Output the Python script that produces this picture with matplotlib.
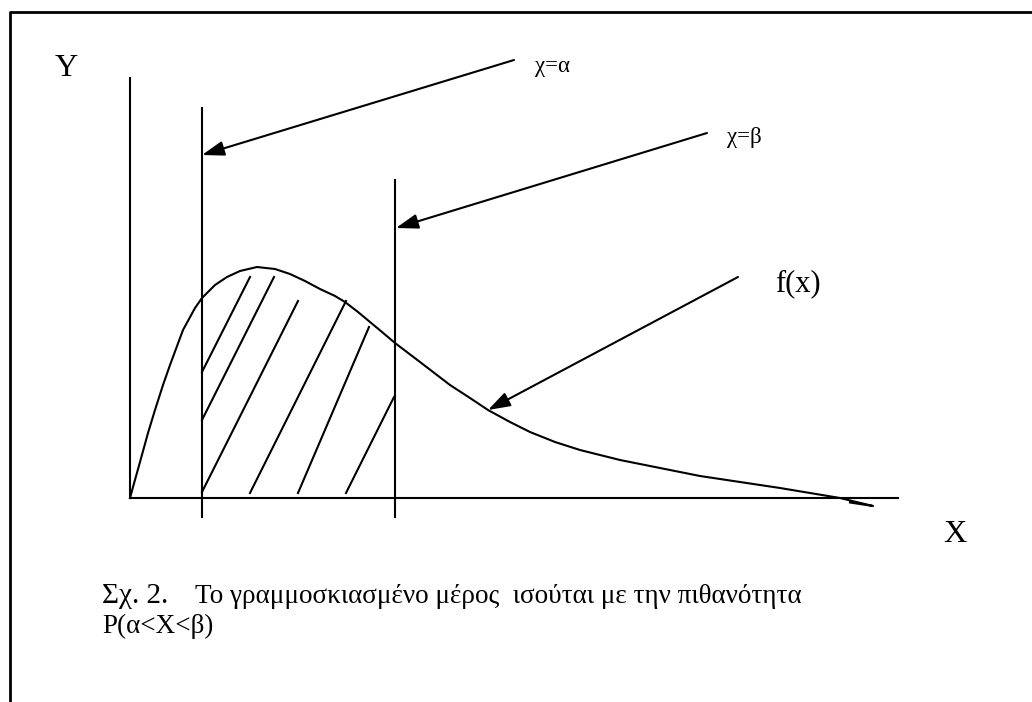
import matplotlib
matplotlib.use('Agg')
import matplotlib.pyplot as plt

# Σχήμα: πυκνότητα f(x) με γραμμοσκιασμένο μέρος μεταξύ x=α και x=β
# Όλες οι συντεταγμένες σε pixels της εικόνας (y προς τα κάτω)

# καμπύλη f(x)
curve_x = [130, 133, 140, 148, 155, 163, 170, 183, 195, 202, 215, 227, 240,
           257, 275, 290, 305, 320, 335, 345, 358, 370, 382, 395, 420, 450,
           470, 488, 510, 530, 555, 580, 620, 660, 700, 740, 780, 810, 840,
           873, 850]
curve_y = [498, 487, 462, 433, 410, 385, 365, 330, 308, 298, 285, 277, 271,
           267, 269, 274, 281, 289, 296, 302, 312, 322, 332, 343, 362, 385,
           398, 410, 422, 432, 442, 450, 460, 468, 476, 482, 488, 493, 498,
           506, 502.5]

# άξονες
y_axis = (130, 78, 498)      # x, y_top, y_bottom
x_axis = (498, 130, 898)     # y, x_left, x_right

# κατακόρυφες γραμμές x=α, x=β
vlines_x = [202, 395]
vlines_top = [108, 180]
vlines_bottom = 517

# γραμμοσκίαση (x0, y0, x1, y1)
hatch = [
    (202, 372, 250, 277),
    (202, 420, 274, 277),
    (202, 492, 298, 301),
    (250, 493, 346, 301),
    (298, 493, 369, 327),
    (346, 493, 394, 397),
]

# βέλη (από, προς)
arrows = [
    ((514, 60), (202, 155)),
    ((707, 133), (396, 228)),
    ((738, 277), (488, 410)),
]

labels = [
    ('Y', 55, 76, 23),
    ('X', 943, 542, 23),
    ('χ=α', 535, 72, 16.5),
    ('χ=β', 727, 143, 16.5),
    ('f(x)', 775, 291, 22),
]

caption_head = 'Σχ. 2.'
caption_1 = 'Το γραμμοσκιασμένο μέρος  ισούται με την πιθανότητα'
caption_2 = 'P(α<X<β)'

W, H = 1032, 702
fig = plt.figure(figsize=(W / 100, H / 100), dpi=100)
ax = fig.add_axes([0, 0, 1, 1])
ax.set_xlim(0, W)
ax.set_ylim(H, 0)
ax.axis('off')

lw = 1.5
k = 'black'

# πλαίσιο (μόνο πάνω και αριστερά)
ax.plot([10, 10, W], [H, 12, 12], color=k, lw=2, solid_capstyle='butt')

# άξονες
ax.plot([y_axis[0], y_axis[0]], [y_axis[1], y_axis[2]], color=k, lw=lw)
ax.plot([x_axis[1], x_axis[2]], [x_axis[0], x_axis[0]], color=k, lw=lw)

for xv, yt in zip(vlines_x, vlines_top):
    ax.plot([xv, xv], [yt, vlines_bottom], color=k, lw=lw)

ax.plot(curve_x, curve_y, color=k, lw=lw, solid_joinstyle='round')

for x0, y0, x1, y1 in hatch:
    ax.plot([x0, x1], [y0, y1], color=k, lw=lw)

for (sx, sy), (ex, ey) in arrows:
    ax.annotate('', xy=(ex, ey), xytext=(sx, sy),
                arrowprops=dict(arrowstyle='-|>,head_length=0.9,head_width=0.3',
                                mutation_scale=15, color=k, lw=lw,
                                shrinkA=0, shrinkB=0))

serif = 'Liberation Serif'
for txt, x, y, fs in labels:
    ax.text(x, y, txt, fontsize=fs, family=serif, ha='left', va='baseline')

ax.text(102, 603, caption_head, fontsize=21, family=serif, ha='left', va='baseline')
ax.text(195, 603, caption_1, fontsize=19.5, family=serif, ha='left', va='baseline')
ax.text(102, 633, caption_2, fontsize=19.5, family=serif, ha='left', va='baseline')

fig.savefig('out.png', dpi=100)
